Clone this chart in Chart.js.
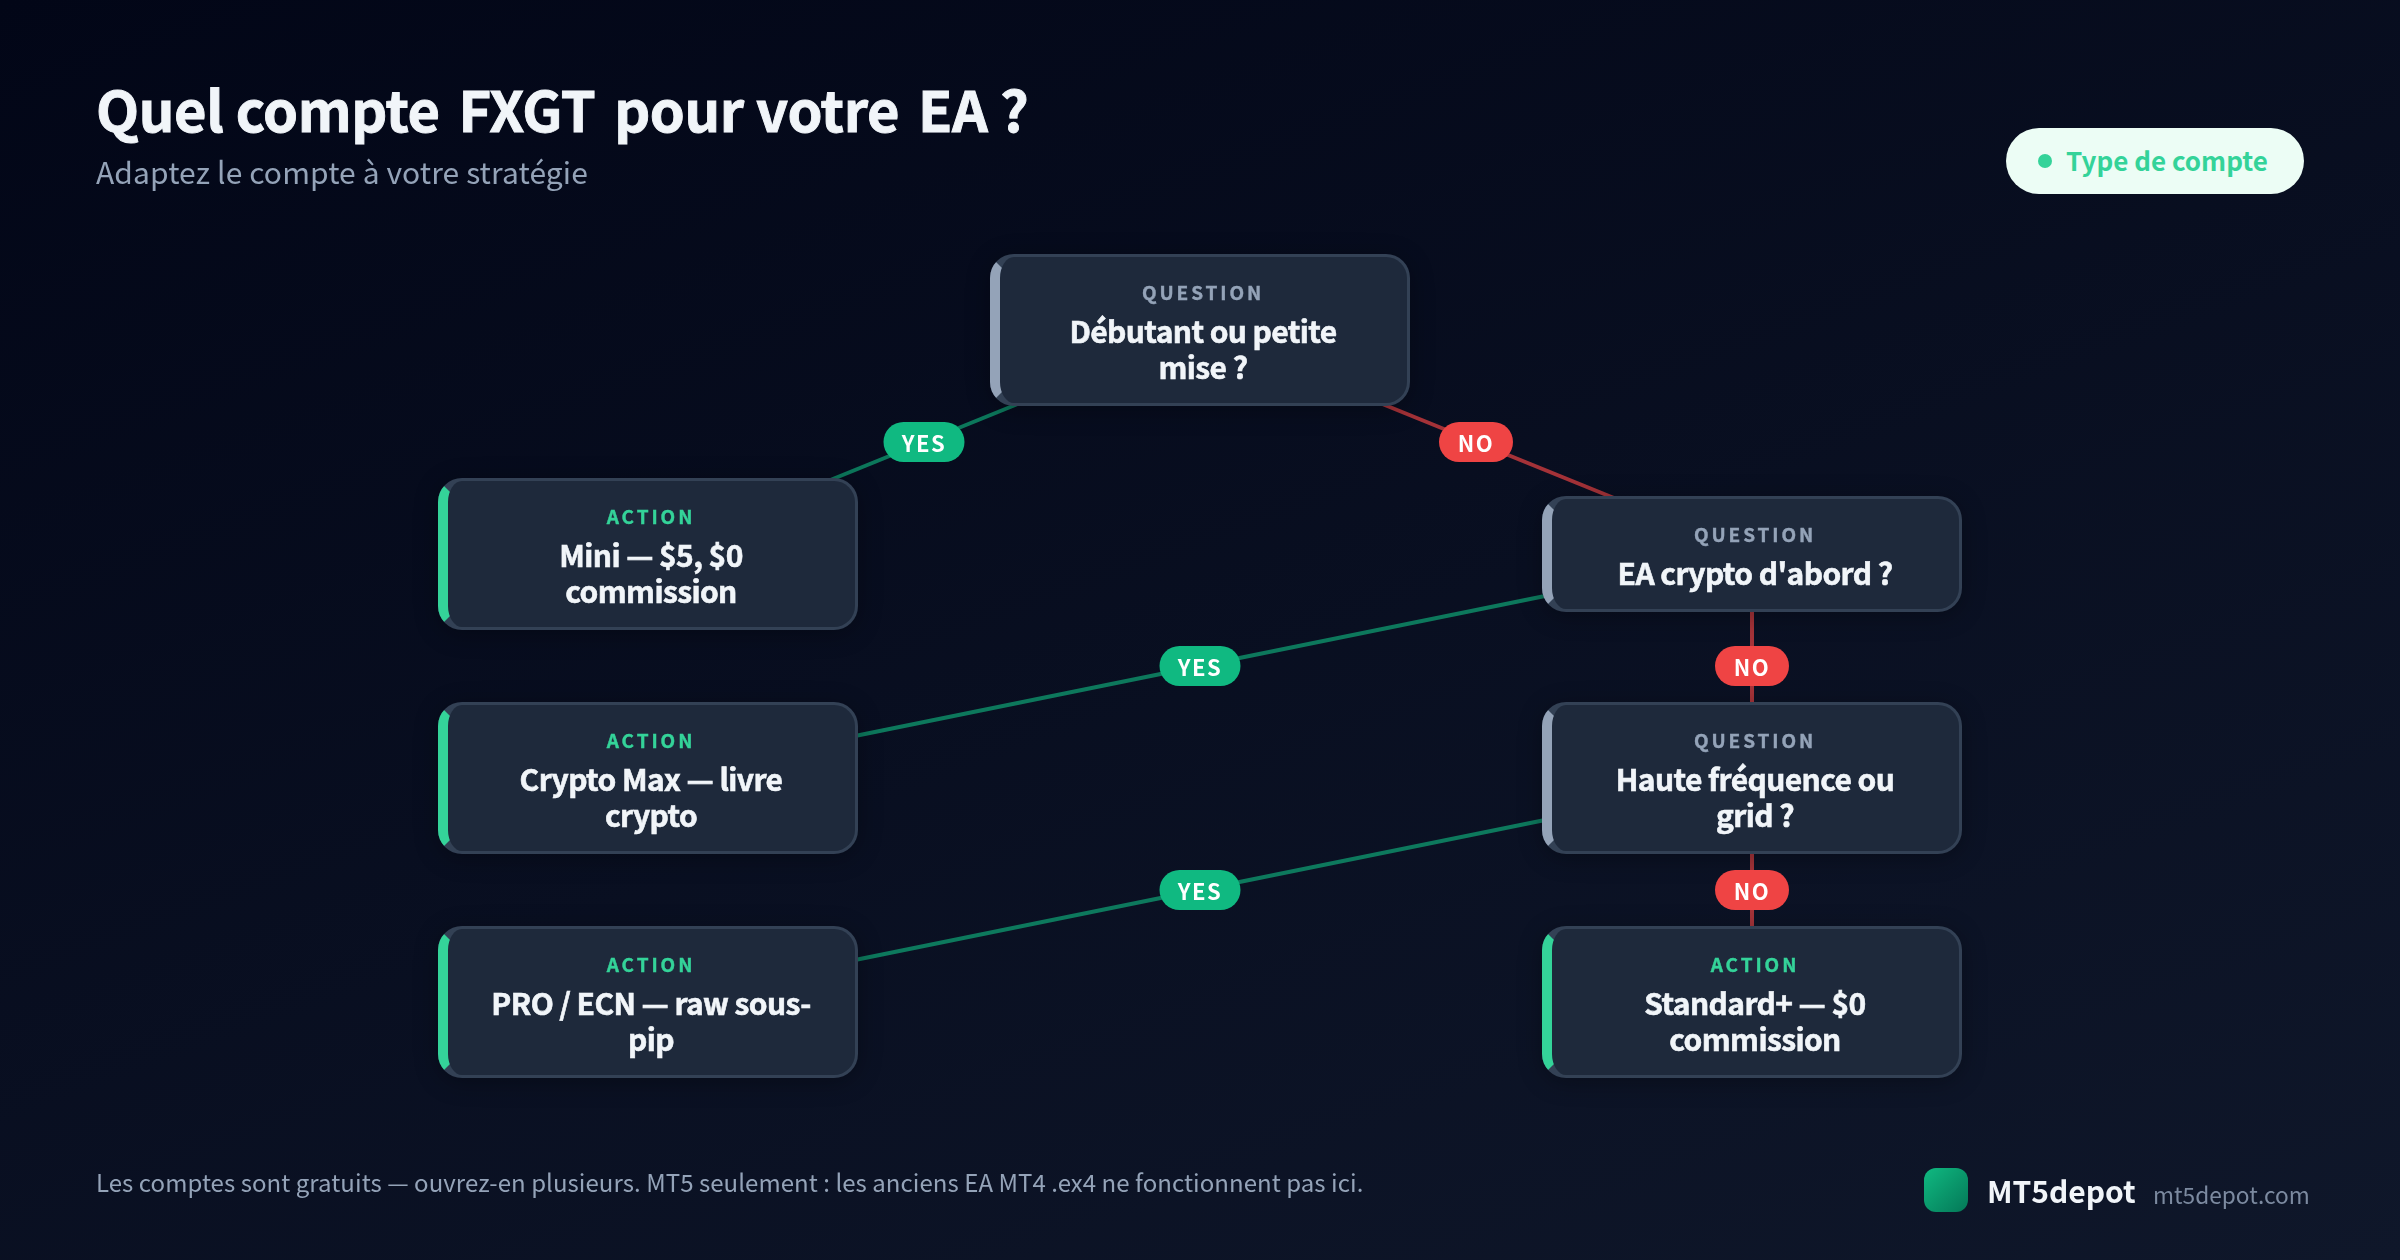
<!DOCTYPE html>
<html lang="fr">
<head>
<meta charset="utf-8">
<title>Quel compte FXGT pour votre EA ?</title>
<script src="https://cdn.jsdelivr.net/npm/chart.js@4/dist/chart.umd.min.js"></script>
<style>
  html, body { margin: 0; padding: 0; }
  body {
    position: relative;
    width: 2400px;
    height: 1260px;
    overflow: hidden;
    font-family: "Noto Sans CJK JP", "Noto Sans", sans-serif;
    background: linear-gradient(160deg, #020617 0%, #0f172a 100%);
  }
  canvas { position: absolute; left: 0; top: 0; }
  .txt { position: absolute; white-space: nowrap; line-height: 1; }
  #title { left: 96px; top: 80px; font-size: 56px; font-weight: 700; letter-spacing: -0.4px; -webkit-text-stroke: 0.9px #f1f5f9; color: #f1f5f9; }
  #title b { font-weight: inherit; margin-left: 6.5px; }
  #subtitle { left: 96px; top: 156px; font-size: 30px; letter-spacing: 0.1px; color: #94a3b8; }
  #badge {
    position: absolute; left: 2006px; top: 128px; width: 298px; height: 66px;
    border-radius: 33px; background: #ecfdf5;
  }
  #badge i { position: absolute; left: 32px; top: 26px; width: 14px; height: 14px; border-radius: 50%; background: #34d399; }
  #badge span { position: absolute; left: 60px; top: 19px; font-size: 26px; font-weight: 700; color: #34d399; line-height: 1; white-space: nowrap; }
  #note { left: 96px; top: 1170px; font-size: 24px; letter-spacing: 0.05px; color: #94a3b8; }
  #logo {
    position: absolute; left: 1924px; top: 1168px; width: 44px; height: 44px;
    border-radius: 12px; background: linear-gradient(135deg, #10b981, #047857);
  }
  #brand { left: 1987px; top: 1175px; font-size: 30px; font-weight: 700; color: #f1f5f9; }
  #site { left: 2153px; top: 1184px; font-size: 22.7px; color: #7c8aa0; }
</style>
</head>
<body>
<canvas id="flow" width="2400" height="1260"></canvas>
<div class="txt" id="title">Quel compte <b>FXGT</b> <b>pour</b> votre <b>EA</b> ?</div>
<div class="txt" id="subtitle">Adaptez le compte à votre stratégie</div>
<div id="badge"><i></i><span>Type de compte</span></div>
<div class="txt" id="note">Les comptes sont gratuits — ouvrez-en plusieurs. MT5 seulement : les anciens EA MT4 .ex4 ne fonctionnent pas ici.</div>
<div id="logo"></div>
<div class="txt" id="brand">MT5depot</div>
<div class="txt" id="site">mt5depot.com</div>

<script>
const nodeKinds = ["QUESTION", "ACTION", "QUESTION", "ACTION", "QUESTION", "ACTION", "ACTION"];
const nodeLines = [
  ["Débutant ou petite", "mise ?"],
  ["Mini — $5, $0", "commission"],
  ["EA crypto d'abord ?"],
  ["Crypto Max — livre", "crypto"],
  ["Haute fréquence ou", "grid ?"],
  ["PRO / ECN — raw sous-", "pip"],
  ["Standard+ — $0", "commission"],
];
const nodeColumns = [1, 0, 2, 0, 2, 0, 2];
const nodeRanks = [0, 1, 1, 2, 2, 3, 3];

const edgeFrom = [0, 0, 2, 2, 4, 4];
const edgeTo = [1, 2, 3, 4, 5, 6];
const edgeLabels = ["YES", "NO", "YES", "NO", "YES", "NO"];

const FONT = '"Noto Sans CJK JP", "Noto Sans", sans-serif';
const NODE_W = 420;
const kindColors = { QUESTION: "#94a3b8", ACTION: "#34d399" };
const edgeColors = { YES: "rgba(16, 185, 129, 0.62)", NO: "rgba(239, 68, 68, 0.68)" };
const pillColors = { YES: "#10b981", NO: "#ef4444" };
const pillWidths = { YES: 81, NO: 74 };

const edgeDatasets = edgeFrom.map((from, i) => ({
  label: edgeLabels[i],
  data: [
    { x: nodeColumns[from], y: nodeRanks[from] },
    { x: nodeColumns[edgeTo[i]], y: nodeRanks[edgeTo[i]] },
  ],
  borderColor: edgeColors[edgeLabels[i]],
  borderWidth: 4,
  pointRadius: 0,
  clip: false,
}));

// bold plus a hairline stroke, the reference sits between Bold and Black
const heavyText = (ctx, text, x, y, color, stroke) => {
  ctx.fillStyle = color;
  ctx.strokeStyle = color;
  ctx.lineWidth = stroke;
  ctx.fillText(text, x, y);
  ctx.strokeText(text, x, y);
};

const drawNode = (ctx, cx, cy, kind, lines) => {
  const h = lines.length > 1 ? 152 : 116;
  const x = cx - NODE_W / 2;
  const y = cy - h / 2;

  // card with its soft shadow
  ctx.save();
  ctx.shadowColor = "rgba(0, 0, 0, 0.3)";
  ctx.shadowBlur = 24;
  ctx.shadowOffsetY = 4;
  ctx.fillStyle = "#334155";
  ctx.beginPath();
  ctx.roundRect(x, y, NODE_W, h, 24);
  ctx.fill();
  ctx.restore();

  // left accent, mitred into the thin border like a css border-left
  ctx.save();
  ctx.beginPath();
  ctx.moveTo(x - 1, y + 1);
  ctx.lineTo(x + 30, y + 32);
  ctx.lineTo(x + 30, y + h - 32);
  ctx.lineTo(x - 1, y + h - 1);
  ctx.closePath();
  ctx.clip();
  ctx.fillStyle = kindColors[kind];
  ctx.beginPath();
  ctx.roundRect(x, y, NODE_W, h, 24);
  ctx.fill();
  ctx.restore();

  ctx.fillStyle = "#1e293b";
  ctx.beginPath();
  ctx.roundRect(x + 10, y + 3, NODE_W - 13, h - 6, [
    { x: 14, y: 21 },
    { x: 21, y: 21 },
    { x: 21, y: 21 },
    { x: 14, y: 21 },
  ]);
  ctx.fill();

  ctx.textAlign = "center";
  ctx.textBaseline = "alphabetic";
  ctx.font = `700 19px ${FONT}`;
  ctx.letterSpacing = "2.9px";
  heavyText(ctx, kind, cx + 3, y + 46, kindColors[kind], 0.4);

  ctx.font = `700 30px ${FONT}`;
  ctx.letterSpacing = "-0.6px";
  lines.forEach((line, i) => heavyText(ctx, line, cx + 3, y + 89 + i * 36, "#f1f5f9", 0.6));
  ctx.letterSpacing = "0px";
};

const drawPill = (ctx, cx, cy, label) => {
  const w = pillWidths[label];
  ctx.fillStyle = pillColors[label];
  ctx.beginPath();
  ctx.roundRect(cx - w / 2, cy - 20, w, 40, 20);
  ctx.fill();
  ctx.fillStyle = "#ffffff";
  ctx.font = `700 22px ${FONT}`;
  ctx.letterSpacing = "1.5px";
  ctx.textAlign = "center";
  ctx.textBaseline = "alphabetic";
  ctx.fillText(label, cx, cy + 9.5);
  ctx.letterSpacing = "0px";
};

const flowPlugin = {
  id: "flow",
  afterDatasetsDraw(chart) {
    const { ctx, scales } = chart;
    ctx.save();
    nodeKinds.forEach((kind, i) => {
      drawNode(ctx, scales.x.getPixelForValue(nodeColumns[i]), scales.y.getPixelForValue(nodeRanks[i]), kind, nodeLines[i]);
    });
    edgeLabels.forEach((label, i) => {
      const a = edgeFrom[i];
      const b = edgeTo[i];
      const cx = scales.x.getPixelForValue((nodeColumns[a] + nodeColumns[b]) / 2);
      const cy = scales.y.getPixelForValue((nodeRanks[a] + nodeRanks[b]) / 2);
      drawPill(ctx, cx, cy, label);
    });
    ctx.restore();
  },
};

new Chart(document.getElementById("flow"), {
  type: "line",
  data: { datasets: edgeDatasets },
  options: {
    responsive: false,
    devicePixelRatio: 1,
    animation: false,
    layout: { padding: { left: 648, right: 648, top: 330, bottom: 258 } },
    scales: {
      x: { type: "linear", min: 0, max: 2, display: false },
      y: { type: "linear", min: 0, max: 3, reverse: true, display: false },
    },
    plugins: {
      legend: { display: false },
      tooltip: { enabled: false },
    },
  },
  plugins: [flowPlugin],
});
</script>
</body>
</html>
